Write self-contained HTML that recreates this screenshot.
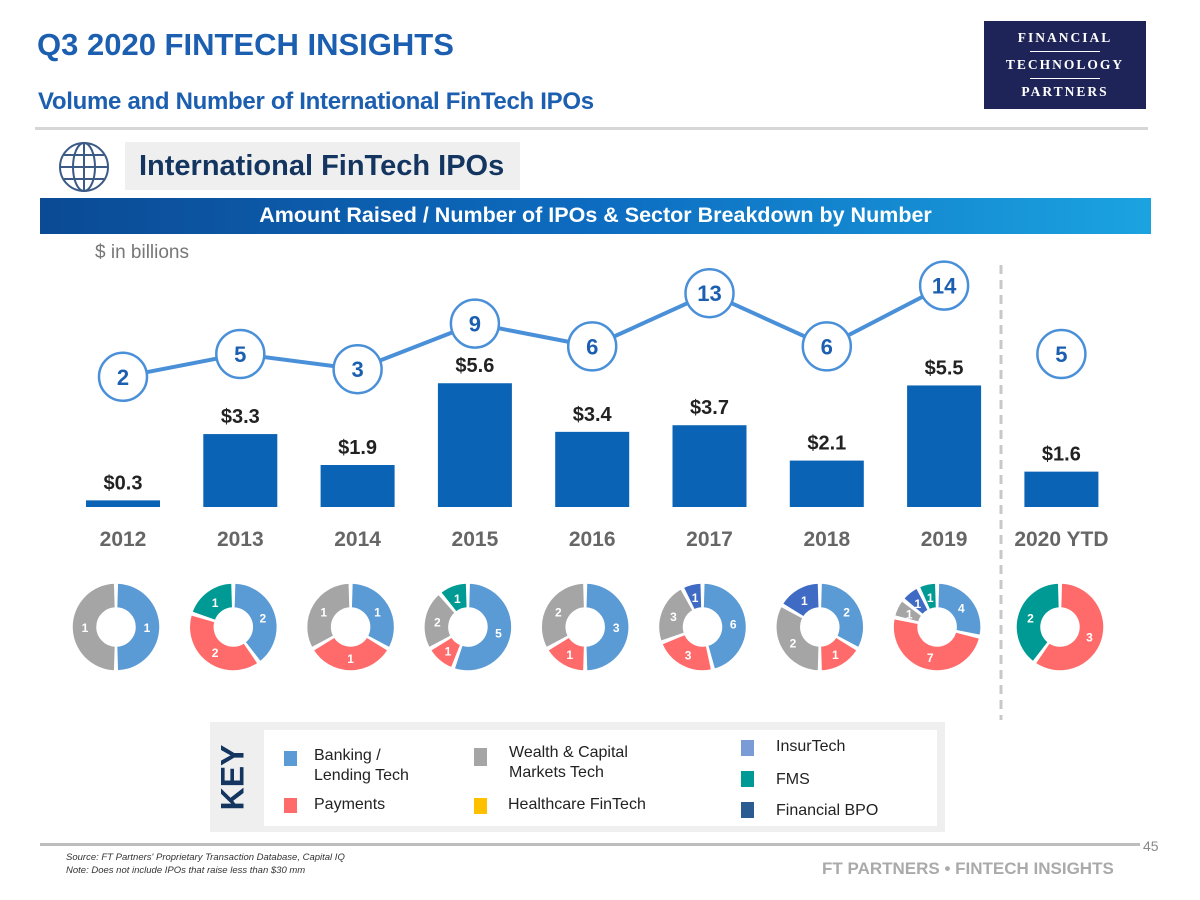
<!DOCTYPE html>
<html><head><meta charset="utf-8"><style>
body{margin:0;width:1200px;height:900px;background:#fff;position:relative;overflow:hidden;font-family:"Liberation Sans",sans-serif}
.a{position:absolute}
</style></head><body>
<div class="a" style="left:37px;top:27px;font-size:31px;font-weight:bold;color:#1c5fb0">Q3 2020 FINTECH INSIGHTS</div>
<div class="a" style="left:38px;top:88px;font-size:24px;font-weight:bold;color:#1c5fb0;letter-spacing:-0.3px">Volume and Number of International FinTech IPOs</div>
<div class="a" style="left:984px;top:21px;width:162px;height:88px;background:#1e2457;color:#fff;font-family:'Liberation Serif',serif;font-weight:bold;text-align:center;font-size:13.5px;letter-spacing:2px">
<div style="margin-top:9px">FINANCIAL</div><div style="width:70px;height:1px;background:#fff;margin:5px auto"></div><div>TECHNOLOGY</div><div style="width:70px;height:1px;background:#fff;margin:5px auto"></div><div>PARTNERS</div></div>
<div class="a" style="left:35px;top:127px;width:1113px;height:3px;background:#d6d6d6"></div>
<svg class="a" style="left:58px;top:141px" width="52" height="52" viewBox="0 0 52 52"><g fill="none" stroke="#3b5a85" stroke-width="2"><circle cx="26" cy="26" r="24"/><ellipse cx="26" cy="26" rx="11" ry="24"/><line x1="26" y1="2" x2="26" y2="50"/><line x1="2" y1="26" x2="50" y2="26"/><line x1="6" y1="14" x2="46" y2="14"/><line x1="6" y1="38" x2="46" y2="38"/></g></svg>
<div class="a" style="left:125px;top:142px;width:395px;height:48px;background:#efefef;font-size:29px;font-weight:bold;color:#13355f;line-height:48px;padding-left:14px;box-sizing:border-box;white-space:nowrap">International FinTech IPOs</div>
<div class="a" style="left:40px;top:198px;width:1111px;height:36px;background:linear-gradient(90deg,#0b4a94,#0d6cc0 50%,#1ba3e0);color:#fff;font-size:21.5px;font-weight:bold;text-align:center;line-height:34px">Amount Raised / Number of IPOs &amp; Sector Breakdown by Number</div>
<div class="a" style="left:95px;top:242px;font-size:19px;color:#777">$ in billions</div>
<div class="a" style="left:210px;top:722px;width:735px;height:110px;background:#efefef"></div>
<div class="a" style="left:210px;top:722px;width:45px;height:110px;display:flex;align-items:center;justify-content:center"><div style="transform:rotate(-90deg);font-size:32px;font-weight:bold;color:#13355f">KEY</div></div>
<div class="a" style="left:264px;top:730px;width:673px;height:96px;background:#fff"></div>
<div class="a" style="left:0;top:0;font-size:16px;color:#222">
<div class="a" style="left:284px;top:748px;width:300px"><span class="a" style="left:0;top:3px;width:13px;height:15px;background:#5b9bd5"></span><span class="a" style="left:30px;top:-2px;line-height:20px">Banking /<br>Lending Tech</span></div>
<div class="a" style="left:284px;top:798px"><span class="a" style="left:0;top:0;width:13px;height:15px;background:#ff6b6b"></span><span class="a" style="left:30px;top:-2px;white-space:nowrap">Payments</span></div>
<div class="a" style="left:474px;top:746px"><span class="a" style="left:0;top:2px;width:13px;height:18px;background:#a5a5a5"></span><span class="a" style="left:35px;top:-3px;line-height:20px;white-space:nowrap">Wealth &amp; Capital<br>Markets Tech</span></div>
<div class="a" style="left:474px;top:798px"><span class="a" style="left:0;top:0;width:13px;height:16px;background:#ffc000"></span><span class="a" style="left:34px;top:-2px;white-space:nowrap">Healthcare FinTech</span></div>
<div class="a" style="left:741px;top:740px"><span class="a" style="left:0;top:0;width:13px;height:16px;background:#7b9bd6"></span><span class="a" style="left:35px;top:-2px;white-space:nowrap">InsurTech</span></div>
<div class="a" style="left:741px;top:771px"><span class="a" style="left:0;top:0;width:13px;height:16px;background:#009a94"></span><span class="a" style="left:35px;top:0px;white-space:nowrap">FMS</span></div>
<div class="a" style="left:741px;top:802px"><span class="a" style="left:0;top:0;width:13px;height:16px;background:#2a5c91"></span><span class="a" style="left:35px;top:0px;white-space:nowrap">Financial BPO</span></div>
</div>
<div class="a" style="left:40px;top:843px;width:1100px;height:3px;background:#bdbdbd"></div>
<div class="a" style="left:1143px;top:838px;font-size:14px;color:#888">45</div>
<div class="a" style="left:66px;top:851px;font-size:9.5px;font-style:italic;color:#333;line-height:13px">Source: FT Partners' Proprietary Transaction Database, Capital IQ<br>Note: Does not include IPOs that raise less than $30 mm</div>
<div class="a" style="left:822px;top:859px;font-size:17px;font-weight:bold;color:#aaa">FT PARTNERS • FINTECH INSIGHTS</div>

<svg id="chart" class="a" style="left:0;top:0" width="1200" height="900"></svg>
<script>
const years=["2012","2013","2014","2015","2016","2017","2018","2019","2020 YTD"];
const amounts=[0.3,3.3,1.9,5.6,3.4,3.7,2.1,5.5,1.6];
const counts=[2,5,3,9,6,13,6,14,5];
const sectorColors=["#5b9bd5","#ff6b6b","#a5a5a5","#3f6bc4","#009a94"];
const sectorNames=["banking","payments","wealth","bpo","fms"];
const bankingCounts=[1,2,1,5,3,6,2,4,0];
const paymentsCounts=[0,2,1,1,1,3,1,7,3];
const wealthCounts=[1,0,1,2,2,3,2,1,0];
const bpoCounts=[0,0,0,0,0,1,1,1,0];
const fmsCounts=[0,1,0,1,0,0,0,1,2];
const NS="http://www.w3.org/2000/svg",svg=document.getElementById("chart");
const cx=i=>123+i*117.3;
const baseY=507,yAmt=v=>baseY-v*22.1,yCnt=n=>392-7.6*n;
function mk(t,a){const e=document.createElementNS(NS,t);for(const k in a)e.setAttribute(k,a[k]);svg.appendChild(e);return e;}
const sep=mk("line",{x1:1001,y1:265,x2:1001,y2:720,stroke:"#c8c8c8","stroke-width":3,"stroke-dasharray":"9,6"});


years.forEach((y,i)=>{
 const r=mk("rect",{x:cx(i)-37,y:yAmt(amounts[i]),width:74,height:baseY-yAmt(amounts[i]),fill:"#0b63b5"});
 
 
 const t=mk("text",{x:cx(i),y:yAmt(amounts[i])-11,"text-anchor":"middle","font-size":20,"font-weight":"bold",fill:"#222"});
 t.textContent="$"+amounts[i].toFixed(1);
 
 
 const xl=mk("text",{x:cx(i),y:546,"text-anchor":"middle","font-size":21,"font-weight":"bold",fill:"#666"});
 xl.textContent=y;
 
 
});
const pts=counts.slice(0,8).map((c,i)=>cx(i)+","+yCnt(c)).join(" ");
const ln=mk("polyline",{points:pts,fill:"none",stroke:"#4a90d9","stroke-width":4});


counts.forEach((c,i)=>{
 const ci=mk("circle",{cx:cx(i),cy:yCnt(c),r:24,fill:"#fff",stroke:"#4a90d9","stroke-width":2.5});
 
 
 const t=mk("text",{x:cx(i),y:yCnt(c)+8,"text-anchor":"middle","font-size":22,"font-weight":"bold",fill:"#1c5fb0"});
 t.textContent=c;
 
 
});
const series=[bankingCounts,paymentsCounts,wealthCounts,bpoCounts,fmsCounts];
const R=44,r0=19,cy=627;
years.forEach((y,i)=>{
 const vals=series.map(s=>s[i]);const tot=vals.reduce((a,b)=>a+b,0);
 let a0=0;
 const X=i==0?116:(i==8?1060:cx(i)-7);
 vals.forEach((v,k)=>{
  if(!v)return;const a1=a0+v/tot*2*Math.PI;
  const g=0.03;const s=a0+(tot>1?g:0),e=a1-(tot>1?g:0);
  const P=(rr,a)=>[X+rr*Math.sin(a),cy-rr*Math.cos(a)];
  const [x1,y1]=P(R,s),[x2,y2]=P(R,e),[x3,y3]=P(r0,e),[x4,y4]=P(r0,s);
  const lg=(e-s)>Math.PI?1:0;
  const p=mk("path",{d:`M${x1},${y1}A${R},${R} 0 ${lg} 1 ${x2},${y2}L${x3},${y3}A${r0},${r0} 0 ${lg} 0 ${x4},${y4}Z`,fill:sectorColors[k],stroke:"#fff","stroke-width":1.5});
  
  
  const m=(a0+a1)/2,[tx,ty]=P(31,m);
  const t=mk("text",{x:tx,y:ty+5,"text-anchor":"middle","font-size":12,"font-weight":"bold",fill:"#fff"});
  t.textContent=v;
  
  
  a0=a1;
 });
});
</script>
</body></html>
